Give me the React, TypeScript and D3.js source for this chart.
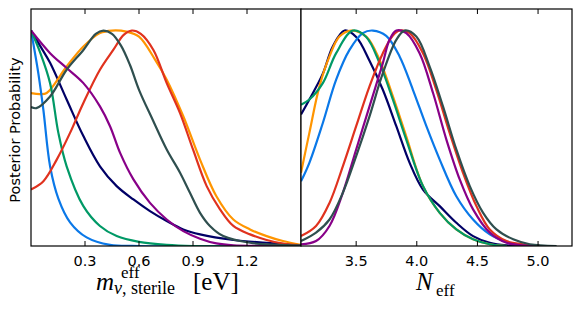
import React from 'react';
import * as d3 from 'd3';

type Pt = [number, number];

// left panel: m_nu sterile [eV]
const massTicks = [0.3, 0.6, 0.9, 1.2];
const massNavy: Pt[] = [[0, 1], [0.05, 0.93], [0.106, 0.85], [0.198, 0.68], [0.291, 0.51], [0.383, 0.37], [0.476, 0.278], [0.569, 0.216], [0.661, 0.162], [0.754, 0.116], [0.846, 0.077], [0.939, 0.054], [1.124, 0.028], [1.309, 0.015], [1.5, 0.003]];
const massOrange: Pt[] = [[0, 0.71], [0.05, 0.705], [0.087, 0.71], [0.198, 0.833], [0.291, 0.926], [0.383, 0.988], [0.45, 1], [0.53, 0.995], [0.6, 0.972], [0.69, 0.864], [0.754, 0.772], [0.846, 0.602], [0.939, 0.401], [1.03, 0.231], [1.124, 0.123], [1.217, 0.077], [1.309, 0.046], [1.4, 0.023], [1.5, 0.005]];
const massBlue: Pt[] = [[0, 1], [0.041, 0.8], [0.069, 0.63], [0.106, 0.37], [0.152, 0.22], [0.217, 0.11], [0.309, 0.04], [0.439, 0.005], [0.6, 0], [1.5, 0]];
const massGreen: Pt[] = [[0, 1], [0.05, 0.9], [0.106, 0.756], [0.152, 0.525], [0.198, 0.37], [0.291, 0.185], [0.383, 0.093], [0.476, 0.046], [0.6, 0.019], [0.754, 0.005], [0.9, 0], [1.5, 0]];
const massRed: Pt[] = [[0, 0.262], [0.069, 0.301], [0.143, 0.401], [0.217, 0.525], [0.291, 0.664], [0.383, 0.818], [0.457, 0.91], [0.515, 0.98], [0.56, 1], [0.61, 0.985], [0.68, 0.91], [0.754, 0.756], [0.828, 0.617], [0.9, 0.448], [0.976, 0.278], [1.05, 0.17], [1.124, 0.093], [1.217, 0.054], [1.309, 0.028], [1.4, 0.011], [1.5, 0.003]];
const massPurple: Pt[] = [[0, 1], [0.106, 0.895], [0.198, 0.826], [0.291, 0.756], [0.383, 0.648], [0.439, 0.556], [0.495, 0.432], [0.569, 0.309], [0.661, 0.2], [0.754, 0.123], [0.846, 0.069], [0.939, 0.034], [1.03, 0.012], [1.124, 0.003], [1.5, 0]];
const massSlate: Pt[] = [[0, 0.645], [0.03, 0.64], [0.106, 0.694], [0.198, 0.818], [0.291, 0.91], [0.36, 0.985], [0.402, 1], [0.45, 0.985], [0.5, 0.93], [0.55, 0.84], [0.6, 0.725], [0.676, 0.586], [0.754, 0.448], [0.828, 0.34], [0.883, 0.247], [0.939, 0.154], [0.994, 0.093], [1.068, 0.046], [1.217, 0.015], [1.5, 0.003]];

// right panel: N_eff
const neffTicks = [3.5, 4.0, 4.5, 5.0];
const neffNavy: Pt[] = [[3.045, 0.61], [3.114, 0.68], [3.225, 0.8], [3.307, 0.926], [3.404, 1], [3.5, 0.97], [3.61, 0.86], [3.72, 0.725], [3.831, 0.556], [3.941, 0.386], [4.051, 0.262], [4.189, 0.185], [4.326, 0.108], [4.464, 0.046], [4.602, 0.015], [4.74, 0.003], [5.0, 0]];
const neffOrange: Pt[] = [[3.045, 0.34], [3.114, 0.525], [3.197, 0.741], [3.28, 0.88], [3.362, 0.972], [3.459, 1], [3.583, 0.972], [3.693, 0.864], [3.803, 0.694], [3.913, 0.509], [4.051, 0.278], [4.189, 0.154], [4.326, 0.077], [4.464, 0.031], [4.602, 0.008], [4.74, 0]];
const neffBlue: Pt[] = [[3.045, 0.3], [3.114, 0.386], [3.225, 0.571], [3.335, 0.772], [3.445, 0.91], [3.555, 0.988], [3.638, 1], [3.748, 0.975], [3.858, 0.88], [3.968, 0.725], [4.079, 0.556], [4.189, 0.401], [4.326, 0.231], [4.464, 0.123], [4.602, 0.054], [4.74, 0.019], [4.877, 0.003], [5.0, 0]];
const neffGreen: Pt[] = [[3.045, 0.656], [3.114, 0.68], [3.225, 0.756], [3.335, 0.895], [3.472, 1], [3.583, 0.97], [3.693, 0.849], [3.803, 0.679], [3.913, 0.494], [4.051, 0.278], [4.189, 0.154], [4.326, 0.077], [4.464, 0.031], [4.602, 0.008], [4.74, 0]];
const neffRed: Pt[] = [[3.045, 0.046], [3.169, 0.093], [3.28, 0.2], [3.39, 0.37], [3.5, 0.556], [3.61, 0.741], [3.72, 0.895], [3.803, 0.977], [3.858, 1], [3.941, 0.988], [4.051, 0.895], [4.161, 0.725], [4.271, 0.525], [4.381, 0.34], [4.492, 0.185], [4.602, 0.077], [4.74, 0.023], [4.877, 0.008], [5.015, 0.002]];
const neffPurple: Pt[] = [[3.045, 0.008], [3.169, 0.023], [3.28, 0.093], [3.39, 0.247], [3.5, 0.448], [3.61, 0.648], [3.72, 0.849], [3.775, 0.957], [3.831, 1], [3.913, 0.988], [4.023, 0.895], [4.134, 0.71], [4.244, 0.494], [4.354, 0.309], [4.464, 0.17], [4.602, 0.062], [4.74, 0.015], [4.877, 0.003], [5.0, 0]];
const neffSlate: Pt[] = [[3.045, 0.023], [3.169, 0.062], [3.28, 0.123], [3.39, 0.247], [3.5, 0.417], [3.61, 0.602], [3.72, 0.802], [3.831, 0.957], [3.9, 1], [3.996, 0.972], [4.106, 0.833], [4.216, 0.648], [4.326, 0.448], [4.437, 0.278], [4.547, 0.154], [4.657, 0.077], [4.795, 0.031], [4.932, 0.008], [5.153, 0]];

const colors = {
  navy: '#000066',
  orange: '#ff9500',
  blue: '#0a78e8',
  green: '#009966',
  red: '#e0321e',
  purple: '#880088',
  slate: '#2f4f4f',
};

const massSeries = [
  { c: colors.navy, d: massNavy },
  { c: colors.orange, d: massOrange },
  { c: colors.blue, d: massBlue },
  { c: colors.green, d: massGreen },
  { c: colors.red, d: massRed },
  { c: colors.purple, d: massPurple },
  { c: colors.slate, d: massSlate },
];
const neffSeries = [
  { c: colors.navy, d: neffNavy },
  { c: colors.orange, d: neffOrange },
  { c: colors.blue, d: neffBlue },
  { c: colors.green, d: neffGreen },
  { c: colors.red, d: neffRed },
  { c: colors.purple, d: neffPurple },
  { c: colors.slate, d: neffSlate },
];

const top = 9;
const bottom = 246;
const y = d3.scaleLinear().domain([0, 1.1]).range([bottom, top]);

function Panel({ id, x, series, ticks, fmt }: any) {
  const [x0, x1] = x.range();
  const line = d3
    .line<Pt>()
    .x(d => x(d[0]))
    .y(d => y(d[1]))
    .curve(d3.curveCatmullRom.alpha(0.5));
  return (
    <g>
      <defs>
        <clipPath id={id}>
          <rect x={x0} y={top} width={x1 - x0} height={bottom - top} />
        </clipPath>
      </defs>
      <rect x={x0} y={top} width={x1 - x0} height={bottom - top} fill="#fff" />
      <g clipPath={`url(#${id})`}>
        {series.map((s: any, i: number) => (
          <path key={i} d={line(s.d) || ''} fill="none" stroke={s.c} strokeWidth={2.2} strokeLinejoin="round" />
        ))}
      </g>
      {ticks.map((t: number) => (
        <g key={t}>
          <line x1={x(t)} x2={x(t)} y1={bottom} y2={bottom - 5} stroke="#000" />
          <line x1={x(t)} x2={x(t)} y1={top} y2={top + 5} stroke="#000" />
          <text x={x(t)} y={bottom + 20} textAnchor="middle" fontSize={14.5} fontFamily="DejaVu Sans">
            {fmt(t)}
          </text>
        </g>
      ))}
      <rect x={x0} y={top} width={x1 - x0} height={bottom - top} fill="none" stroke="#000" strokeWidth={1.2} />
    </g>
  );
}

export default function App() {
  const xMass = d3.scaleLinear().domain([0, 1.5]).range([31, 301]);
  const xNeff = d3.scaleLinear().domain([3.045, 5.28]).range([301, 572]);
  const serif = 'Liberation Serif, DejaVu Serif, serif';
  return (
    <svg width={581} height={312} style={{ position: 'absolute', left: 0, top: 0 }}>
      <rect width={581} height={312} fill="#fff" />
      <Panel id="cm" x={xMass} series={massSeries} ticks={massTicks} fmt={(t: number) => t.toFixed(1)} />
      <Panel id="cn" x={xNeff} series={neffSeries} ticks={neffTicks} fmt={(t: number) => t.toFixed(1)} />
      <text transform="translate(20,130) rotate(-90)" textAnchor="middle" fontSize={14.5} fontFamily="DejaVu Sans">
        Posterior Probability
      </text>
      <g fontFamily={serif}>
        <text x={96} y={290} fontSize={25} fontStyle="italic">m</text>
        <text x={121} y={278} fontSize={17}>eff</text>
        <text x={114} y={294} fontSize={18}>
          <tspan fontStyle="italic">ν</tspan>, sterile
        </text>
        <text x={193} y={290} fontSize={25}>[eV]</text>
        <text x={416} y={290} fontSize={25} fontStyle="italic">N</text>
        <text x={436} y={296} fontSize={17}>eff</text>
      </g>
    </svg>
  );
}
